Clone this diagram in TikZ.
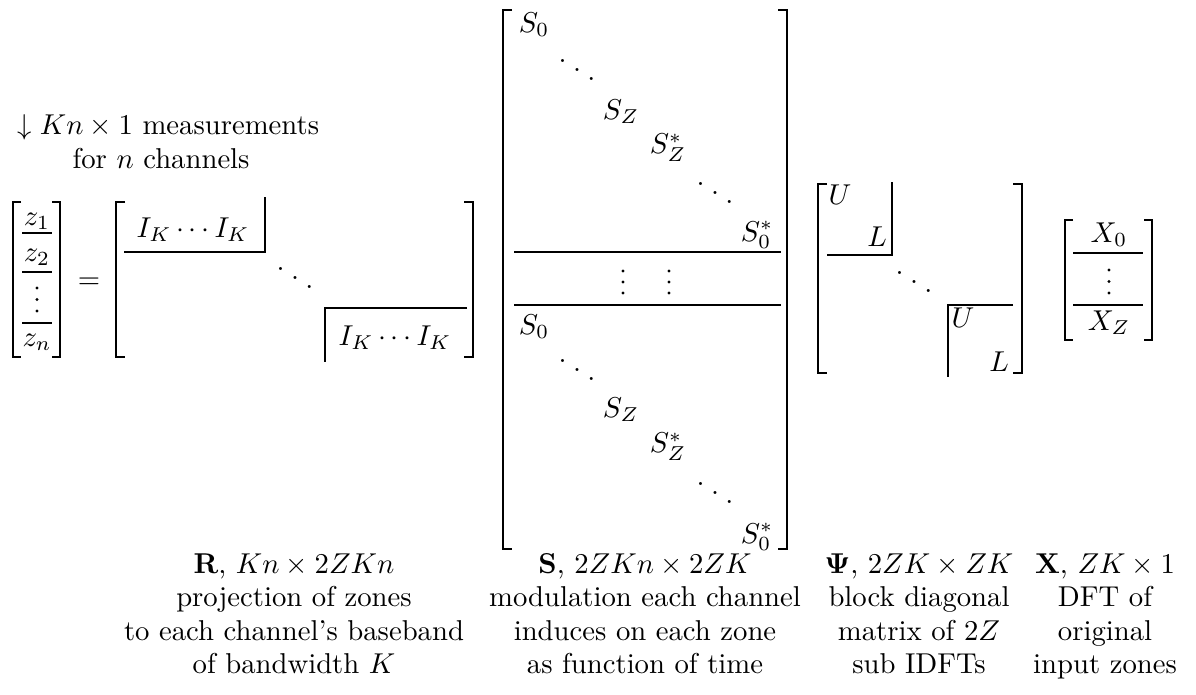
\documentclass[tikz,border=0pt]{standalone}
\newcommand{\myddots}{\hbox{.\kern2.2pt\raise-3pt\hbox{.}\kern2.2pt\raise-6pt\hbox{.}}}
\begin{document}
\begin{tikzpicture}[x=0.3484pt,y=-0.3484pt,
  ent/.style={inner sep=0pt},
  lbl/.style={inner sep=0pt,anchor=base},
  brk/.style={line width=0.6pt},
  rul/.style={line width=0.8pt},
  vdot/.style={fill=black}]
\useasboundingbox (0,0) rectangle (1196,694);
% top-left label
\node[lbl,anchor=base west] (m1) at (17,134) {$\downarrow Kn\times 1$ measurements};
\node[lbl,anchor=base west] (m2) at (72,168) {for $n$ channels};
% z vector
\draw[brk] (21,202) -- (13,202) -- (13,357) -- (21,357);
\draw[brk] (52,202) -- (60,202) -- (60,357) -- (52,357);
\node[ent] (z1) at (37,221) {$z_1$};
\node[ent] (z2) at (37,257) {$z_2$};
\foreach \yy in {288,299.5,311} \fill[vdot] (37,\yy) circle[radius=0.55pt];
\node[ent] (zn) at (37,342) {$z_n$};
\draw[rul] (22,233) -- (52,233);
\draw[rul] (22,272) -- (52,272);
\draw[rul] (22,323) -- (52,323);
\node[ent] (eq) at (89,283) {$=$};
% R matrix
\draw[brk] (125,202) -- (116,202) -- (116,357) -- (125,357);
\draw[brk] (464,202) -- (473,202) -- (473,357) -- (464,357);
\node[ent] (r1) at (193,230) {$I_K\cdots I_K$};
\draw[rul] (124,252) -- (265,252) -- (265,197);
\node[ent] (rd) at (295,278) {\myddots};
\draw[rul] (467,308) -- (325,308) -- (325,362);
\node[ent] (r2) at (395,338) {$I_K\cdots I_K$};
% S matrix
\draw[brk] (512,10) -- (503,10) -- (503,549) -- (512,549);
\draw[brk] (778,10) -- (787,10) -- (787,549) -- (778,549);
\node[ent] (sa0) at (534,25) {$S_0$};
\node[ent] (sad1) at (577,70) {\myddots};
\node[ent] (saz) at (621,112) {$S_Z$};
\node[ent] (sazs) at (668,148) {$S_Z^*$};
\node[ent] (sad2) at (715,193) {\myddots};
\node[ent] (sa0s) at (757,235) {$S_0^*$};
\draw[rul] (514,252) -- (781,252);
\foreach \yy in {271,282,293} {
  \fill[vdot] (623,\yy) circle[radius=0.55pt];
  \fill[vdot] (669,\yy) circle[radius=0.55pt];
}
\draw[rul] (514,305) -- (781,305);
\node[ent] (sb0) at (534,327) {$S_0$};
\node[ent] (sbd1) at (577,370) {\myddots};
\node[ent] (sbz) at (621,410) {$S_Z$};
\node[ent] (sbzs) at (668,447) {$S_Z^*$};
\node[ent] (sbd2) at (715,493) {\myddots};
\node[ent] (sb0s) at (757,537) {$S_0^*$};
% Psi matrix
\draw[brk] (827,184) -- (818,184) -- (818,373) -- (827,373);
\draw[brk] (1013,184) -- (1022,184) -- (1022,373) -- (1013,373);
\node[ent] (u1) at (840,195) {$U$};
\node[ent] (l1) at (877,237) {$L$};
\draw[rul] (827,255) -- (892,255) -- (892,182);
\node[ent] (pd) at (914,282) {\myddots};
\draw[rul] (1013,305) -- (948,305) -- (948,377);
\node[ent] (u2) at (963,318) {$U$};
\node[ent] (l2) at (999,362) {$L$};
% X vector
\draw[brk] (1073,220) -- (1065,220) -- (1065,340) -- (1073,340);
\draw[brk] (1144,220) -- (1152,220) -- (1152,340) -- (1144,340);
\node[ent] (x0) at (1109,235) {$X_0$};
\draw[rul] (1073,253) -- (1143,253);
\foreach \yy in {270,281.5,293} \fill[vdot] (1109,\yy) circle[radius=0.55pt];
\draw[rul] (1073,305) -- (1143,305);
\node[ent] (xz) at (1109,323) {$X_Z$};
% bottom labels
\node[lbl] (ra) at (294,573) {$\mathbf{R}$, $Kn\times 2ZKn$};
\node[lbl] (rb) at (294,606.5) {projection of zones};
\node[lbl] (rc) at (294,640) {to each channel's baseband};
\node[lbl] (rdd) at (294,673.5) {of bandwidth $K$};
\node[lbl] (sa) at (645,573) {$\mathbf{S}$, $2ZKn\times 2ZK$};
\node[lbl] (sb) at (645,606.5) {modulation each channel};
\node[lbl] (sc) at (645,640) {induces on each zone};
\node[lbl] (sd) at (645,673.5) {as function of time};
\node[lbl] (pa) at (919,573) {$\mathbf{\Psi}$, $2ZK\times ZK$};
\node[lbl] (pb) at (919,606.5) {block diagonal};
\node[lbl] (pc) at (919,640) {matrix of $2Z$};
\node[lbl] (pdd) at (919,673.5) {sub IDFTs};
\node[lbl] (xa) at (1105,573) {$\mathbf{X}$, $ZK\times 1$};
\node[lbl] (xb) at (1105,606.5) {DFT of};
\node[lbl] (xc) at (1105,640) {original};
\node[lbl] (xdd) at (1105,673.5) {input zones};
\end{tikzpicture}
\end{document}
